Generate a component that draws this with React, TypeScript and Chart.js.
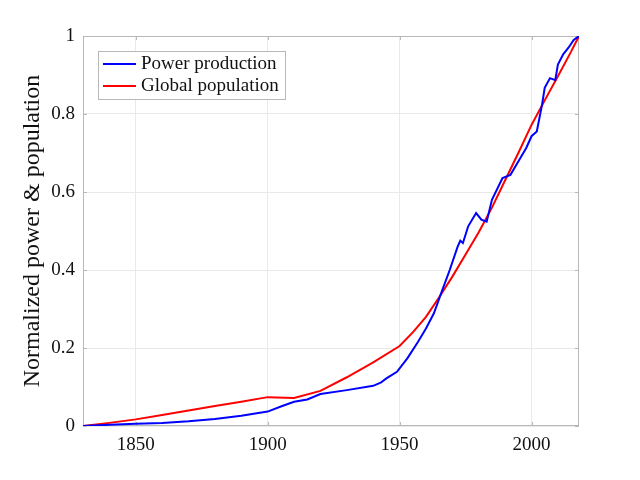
import React, { useEffect, useRef } from "react";
import Chart from "chart.js/auto";

// values (normalized 0..1)
const powerYears = [
  1830, 1840, 1850, 1860, 1870, 1880, 1890, 1900, 1905, 1910, 1915, 1920, 1930,
  1940, 1943, 1945, 1949, 1953, 1957, 1960, 1963, 1966, 1969, 1972, 1973, 1974,
  1976, 1979, 1981, 1983, 1985, 1989, 1992, 1995, 1998, 2000, 2002, 2004, 2005,
  2007, 2009, 2010, 2012, 2014, 2016, 2018,
];
const powerValues = [
  0, 0.003, 0.006, 0.008, 0.012, 0.018, 0.026, 0.037, 0.05, 0.062, 0.068, 0.082,
  0.092, 0.103, 0.112, 0.122, 0.139, 0.174, 0.216, 0.25, 0.289, 0.345, 0.4, 0.46,
  0.475, 0.469, 0.512, 0.546, 0.529, 0.524, 0.58, 0.636, 0.644, 0.678, 0.713,
  0.743, 0.755, 0.824, 0.867, 0.892, 0.887, 0.927, 0.953, 0.97, 0.99, 1.0,
];

const popYears = [
  1830, 1840, 1850, 1860, 1870, 1880, 1890, 1900, 1910, 1920, 1930, 1940, 1950,
  1955, 1960, 1965, 1970, 1975, 1980, 1985, 1990, 1995, 2000, 2005, 2010, 2015,
  2018,
];
const popValues = [
  0, 0.008, 0.017, 0.028, 0.04, 0.051, 0.062, 0.074, 0.072, 0.09, 0.125, 0.163,
  0.205, 0.24, 0.28, 0.33, 0.383, 0.44, 0.497, 0.56, 0.63, 0.7, 0.772, 0.835,
  0.897, 0.96, 1.0,
];

const xTicks = [1850, 1900, 1950, 2000];
const seriesLabels = ["Power production", "Global population"];
const seriesColors = ["#0000ff", "#ff0000"];

const FONT = "'Liberation Serif', 'DejaVu Serif', serif";
const FRAME = "#b8b8b8";

// box around the plot with small inward ticks (pgfplots look)
const framePlugin = {
  id: "frame",
  beforeDatasetsDraw(chart: any) {
    const { ctx, chartArea: a, scales } = chart;
    ctx.save();
    ctx.strokeStyle = FRAME;
    ctx.lineWidth = 1;
    ctx.strokeRect(a.left + 0.5, a.top + 0.5, a.right - a.left - 1, a.bottom - a.top - 1);
    ctx.beginPath();
    scales.x.ticks.forEach((t: any) => {
      const px = Math.round(scales.x.getPixelForValue(t.value)) + 0.5;
      ctx.moveTo(px, a.bottom);
      ctx.lineTo(px, a.bottom - 4);
      ctx.moveTo(px, a.top);
      ctx.lineTo(px, a.top + 4);
    });
    scales.y.ticks.forEach((t: any) => {
      const py = Math.round(scales.y.getPixelForValue(t.value)) + 0.5;
      ctx.moveTo(a.left, py);
      ctx.lineTo(a.left + 4, py);
      ctx.moveTo(a.right, py);
      ctx.lineTo(a.right - 4, py);
    });
    ctx.stroke();
    ctx.restore();
  },
};

// legend box drawn inside the plot, upper left
const legendPlugin = {
  id: "innerLegend",
  afterDatasetsDraw(chart: any) {
    const { ctx, chartArea: a } = chart;
    const x = a.left + 15;
    const y = a.top + 15;
    const w = 187;
    const h = 48;
    ctx.save();
    ctx.fillStyle = "#ffffff";
    ctx.fillRect(x, y, w, h);
    ctx.strokeStyle = FRAME;
    ctx.lineWidth = 1;
    ctx.strokeRect(x + 0.5, y + 0.5, w, h);
    ctx.font = `19px ${FONT}`;
    ctx.textBaseline = "alphabetic";
    chart.data.datasets.forEach((ds: any, i: number) => {
      const ly = y + 13 + i * 22;
      ctx.strokeStyle = ds.borderColor;
      ctx.lineWidth = 2;
      ctx.beginPath();
      ctx.moveTo(x + 5, ly);
      ctx.lineTo(x + 38, ly);
      ctx.stroke();
      ctx.fillStyle = "#111";
      ctx.fillText(ds.label, x + 43, ly + 5);
    });
    ctx.restore();
  },
};

export default function App() {
  const canvasRef = useRef<HTMLCanvasElement | null>(null);
  const chartRef = useRef<Chart | null>(null);

  useEffect(() => {
    document.body.style.margin = "0";
    if (!canvasRef.current) return;

    chartRef.current = new Chart(canvasRef.current, {
      type: "line",
      data: {
        datasets: [
          {
            label: seriesLabels[0],
            data: powerYears.map((yr, i) => ({ x: yr, y: powerValues[i] })),
            borderColor: seriesColors[0],
            borderWidth: 2,
            pointRadius: 0,
            tension: 0,
          },
          {
            label: seriesLabels[1],
            data: popYears.map((yr, i) => ({ x: yr, y: popValues[i] })),
            borderColor: seriesColors[1],
            borderWidth: 2,
            pointRadius: 0,
            tension: 0,
          },
        ],
      },
      options: {
        responsive: false,
        animation: false,
        layout: { padding: { top: 36, right: 61, left: 0, bottom: 0 } },
        plugins: {
          legend: { display: false },
          tooltip: { enabled: false },
        },
        scales: {
          x: {
            type: "linear",
            min: 1830,
            max: 2018,
            afterBuildTicks: (scale: any) => {
              scale.ticks = xTicks.map((v) => ({ value: v }));
            },
            afterFit: (scale: any) => {
              scale.height = 54;
            },
            grid: { color: "#e9e9e9", drawTicks: false },
            border: { display: false },
            ticks: {
              padding: 8,
              color: "#111",
              font: { family: FONT, size: 19 },
              callback: (v: any) => String(v),
            },
          },
          y: {
            min: 0,
            max: 1,
            afterFit: (scale: any) => {
              scale.width = 83;
            },
            grid: { color: "#e9e9e9", drawTicks: false },
            border: { display: false },
            ticks: {
              stepSize: 0.2,
              padding: 8,
              color: "#111",
              font: { family: FONT, size: 19 },
              callback: (v: any) => {
                const n = Number(v);
                if (Math.abs(n) < 1e-9) return "0";
                if (Math.abs(n - 1) < 1e-9) return "1";
                return n.toFixed(1);
              },
            },
            title: {
              display: true,
              text: "Normalized power & population",
              color: "#111",
              font: { family: FONT, size: 24 },
              padding: { top: 18, bottom: 0 },
            },
          },
        },
      },
      plugins: [framePlugin, legendPlugin],
    });

    return () => {
      if (chartRef.current) {
        chartRef.current.destroy();
        chartRef.current = null;
      }
    };
  }, []);

  return (
    <div style={{ width: 640, height: 480 }}>
      <canvas ref={canvasRef} width={640} height={480}></canvas>
    </div>
  );
}
